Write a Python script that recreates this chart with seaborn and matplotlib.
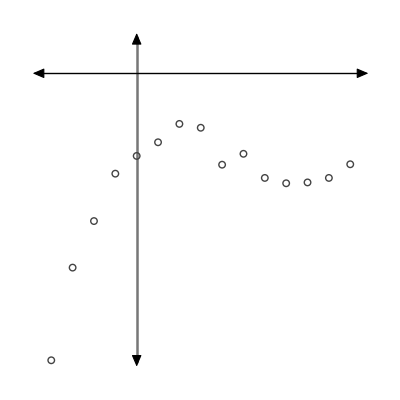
import matplotlib
matplotlib.use("Agg")
import matplotlib.pyplot as plt
import seaborn as sns
import pandas as pd

# points (x in grid steps, y in the same units)
x_vals = [-4, -3, -2, -1, 0, 1, 2, 3, 4, 5, 6, 7, 8, 9, 10]
y_vals = [-13.44, -9.10, -6.92, -4.70, -3.87, -3.23, -2.37, -2.55,
          -4.28, -3.77, -4.90, -5.15, -5.11, -4.90, -4.26]

# extent of the two axis arrows
h_axis = [-4.87, 10.85]
v_axis = [-13.74, 1.89]

df = pd.DataFrame({"x": x_vals, "y": y_vals})

sns.set_style("white")
fig = plt.figure(figsize=(4, 4), dpi=100)
ax = fig.add_axes([0, 0, 1, 1])

# axis lines: vertical grey and a bit thicker, horizontal black
ax.plot([0, 0], [v_axis[0] + 0.2, v_axis[1] - 0.2], color="#777777", lw=1.8, zorder=1)
ax.plot([h_axis[0] + 0.2, h_axis[1] - 0.2], [0, 0], color="black", lw=1.0, zorder=2)


def head(tip, tail):
    ax.annotate("", xy=tip, xytext=tail,
                arrowprops=dict(arrowstyle="-|>,head_length=0.7,head_width=0.3",
                                color="black", lw=0.8, mutation_scale=10,
                                shrinkA=0, shrinkB=0), zorder=3)


head((0, v_axis[1]), (0, v_axis[1] - 0.5))
head((0, v_axis[0]), (0, v_axis[0] + 0.5))
head((h_axis[0], 0), (h_axis[0] + 0.5, 0))
head((h_axis[1], 0), (h_axis[1] - 0.5, 0))

sns.scatterplot(data=df, x="x", y="y", ax=ax, marker="o", s=22,
                facecolor="none", edgecolor="#444444", linewidth=1.0, zorder=4)

ax.set_xlim(-6.40, 12.33)
ax.set_ylim(-15.30, 3.433)
ax.set_axis_off()

fig.savefig("out.png", dpi=100)
